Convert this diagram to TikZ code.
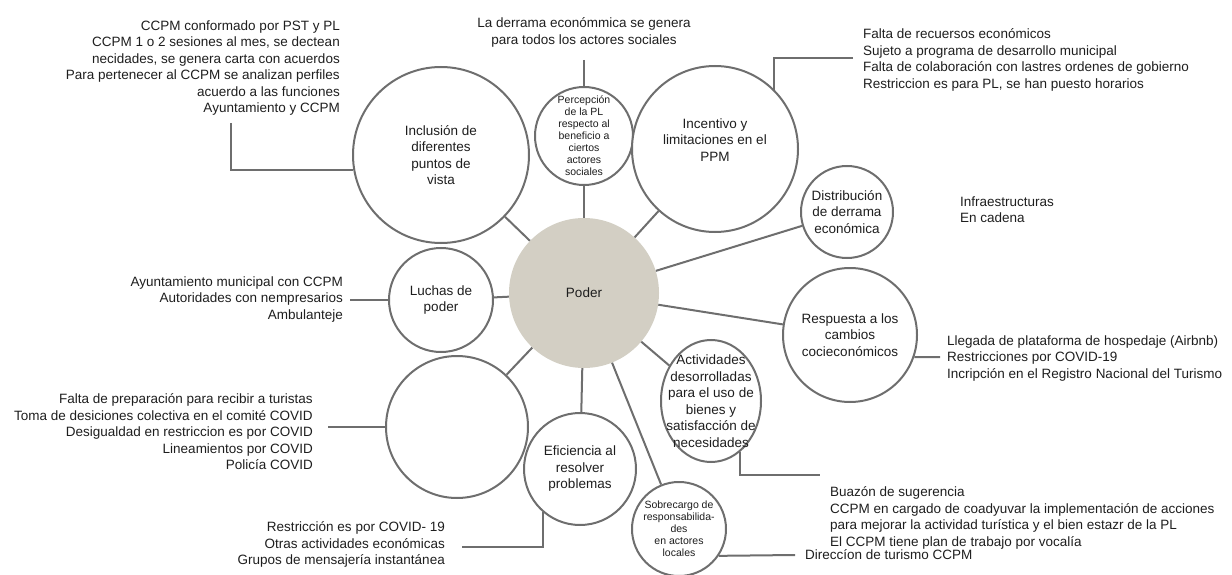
\documentclass[tikz,border=0pt]{standalone}
\usepackage{fontspec}
\setmainfont{Liberation Sans}
\usetikzlibrary{shapes.geometric}
\definecolor{linegray}{HTML}{6E6E6E}
\definecolor{podercol}{HTML}{D3CFC4}
\definecolor{txtcol}{HTML}{1E1E1E}
\begin{document}
\begin{tikzpicture}[x=1pt,y=-1pt,line cap=butt,line join=miter,font=\fontsize{13.5}{16.5}\selectfont,text=txtcol]
	\tikzset{bubble/.style={circle,draw=linegray,line width=2pt,fill=white,align=center,inner sep=-20pt,minimum size=#1},
		oval/.style 2 args={ellipse,draw=linegray,line width=2pt,fill=white,align=center,inner sep=-25pt,minimum width=#1,minimum height=#2},
		conn/.style={draw=linegray,line width=2pt},
		lista/.style={inner sep=0pt,align=left,anchor=north west},
		listd/.style={inner sep=0pt,align=right,anchor=north east},
		chica/.style={font=\fontsize{10.5}{12}\selectfont}}
	\useasboundingbox (0,0) rectangle (1232,575);
	%--------- Nodo central
	\node[circle,fill=podercol,minimum size=150pt,inner sep=0pt] (poder) at (584,293) {Poder};
	%--------- Burbujas
	\node[bubble=176pt] (incl) at (441,155) {Inclusión de\\diferentes\\puntos de\\vista};
	\node[bubble=98pt,chica] (percep) at (584,136) {Percepción\\de la PL\\respecto al\\beneficio a\\ciertos\\actores\\sociales};
	\node[bubble=166pt,text depth=18pt] (incent) at (715,149) {Incentivo y\\limitaciones en el\\PPM};
	\node[bubble=92pt] (distr) at (847,212) {Distribución\\de derrama\\económica};
	\node[bubble=134pt] (resp) at (850,335) {Respuesta a los\\cambios\\cocieconómicos};
	\node[oval={100pt}{122pt}] (activ) at (711,401) {Actividades\\desorrolladas\\para el uso de\\bienes y\\satisfacción de\\necesidades};
	\node[bubble=94pt,chica] (sobre) at (679,529) {Sobrecargo de\\responsabilida-\\des\\en actores\\locales};
	\node[bubble=112pt] (efic) at (580,469) {Eficiencia al\\resolver\\problemas};
	\node[bubble=142pt] (vacio) at (457,427) {};
	\node[bubble=104pt] (luchas) at (441,300) {Luchas de\\poder};
	\foreach \n in {incl,percep,incent,distr,resp,activ,sobre,efic,vacio,luchas}
		\draw[conn] (poder) -- (\n);
	%--------- Listas
	\node[listd] (tIncl) at (340,20.5) {CCPM conformado por PST y PL\\CCPM 1 o 2 sesiones al mes, se dectean\\necidades, se genera carta con acuerdos\\Para pertenecer al CCPM se analizan perfiles\\acuerdo a las funciones\\Ayuntamiento y CCPM};
	\node[inner sep=0pt,align=center,anchor=north] (tPercep) at (584,17.5) {La derrama económmica se genera\\para todos los actores sociales};
	\node[lista] (tIncent) at (863,28.5) {Falta de recuersos económicos\\Sujeto a programa de desarrollo municipal\\Falta de colaboración con lastres ordenes de gobierno\\Restriccion es para PL, se han puesto horarios};
	\node[lista] (tDistr) at (960,196.5) {Infraestructuras\\En cadena};
	\node[listd] (tLuchas) at (343,276.5) {Ayuntamiento municipal con CCPM\\Autoridades con nempresarios\\Ambulanteje};
	\node[lista] (tResp) at (947,335.5) {Llegada de plataforma de hospedaje (Airbnb)\\Restricciones por COVID-19\\Incripción en el Registro Nacional del Turismo};
	\node[lista] (tActiv) at (830,486.5) {Buazón de sugerencia\\CCPM en cargado de coadyuvar la implementación de acciones\\para mejorar la actividad turística y el bien estazr de la PL\\El CCPM tiene plan de trabajo por vocalía};
	\node[inner sep=0pt,anchor=west] (tSobre) at (805,555) {Direccíon de turismo CCPM};
	\node[listd] (tVacio) at (313,393.5) {Falta de preparación para recibir a turistas\\Toma de desiciones colectiva en el comité COVID\\Desigualdad en restriccion es por COVID\\Lineamientos por COVID\\Policía COVID};
	\node[listd] (tEfic) at (445,521.5) {Restricción es por COVID- 19\\Otras actividades económicas\\Grupos de mensajería instantánea};
	%--------- Conectores a las listas
	\coordinate (pIncl) at (231,123);
	\coordinate (pPercep) at (584,60);
	\coordinate (pIncent) at (853,58);
	\coordinate (pLuchas) at (350,300);
	\coordinate (pResp) at (940,357);
	\coordinate (pActiv) at (820,475);
	\coordinate (pSobre) at (795,555);
	\coordinate (pVacio) at (328,427);
	\coordinate (pEfic) at (462,547);
	\draw[conn] (pIncl) |- (incl.190);
	\draw[conn] (pPercep) -- (percep);
	\draw[conn] (pIncent) -| (incent.45);
	\draw[conn] (pLuchas) -- (luchas);
	\draw[conn] (resp.-19) -- (pResp);
	\draw[conn] (activ.-60) |- (pActiv);
	\draw[conn] (sobre.-34) -- (pSobre);
	\draw[conn] (pVacio) -- (vacio);
	\draw[conn] (pEfic) -| (efic.229);
\end{tikzpicture}
\end{document}
